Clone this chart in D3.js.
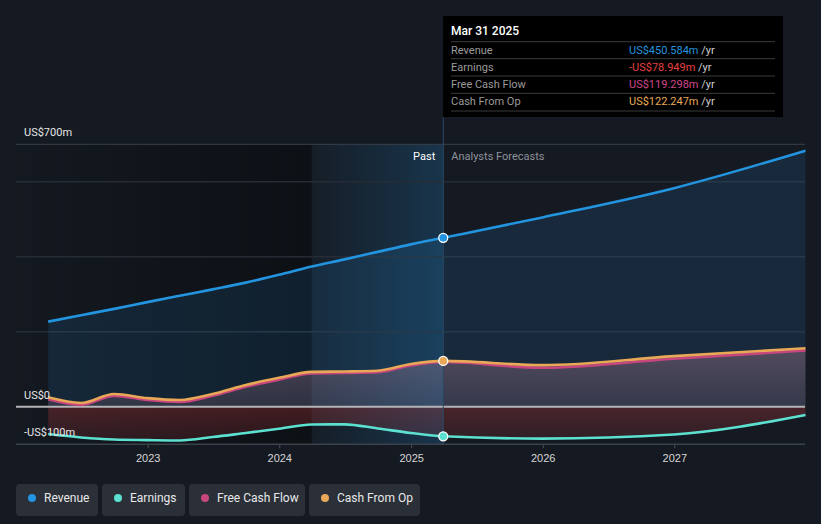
<!DOCTYPE html>
<html>
<head>
<meta charset="utf-8">
<script src="https://cdn.jsdelivr.net/npm/d3@7"></script>
<style>
  html, body { margin: 0; padding: 0; background: #151a22; }
  svg { display: block; font-family: Roboto, "Noto Sans", sans-serif; }
</style>
</head>
<body>
<svg id="chart" width="821" height="524"></svg>
<script>
// chart data (US$ millions)
const dates = ["2022-03-31","2022-06-30","2022-09-30","2022-12-31","2023-03-31","2023-06-30","2023-09-30","2023-12-31",
  "2024-03-31","2024-06-30","2024-09-30","2024-12-31","2025-03-31","2025-12-31","2026-12-31","2027-12-31"]
const revenue  = [227, 244, 261, 279, 296, 313, 331, 352, 374, 393, 413, 433, 450.584, 505, 583, 683]
const earnings = [-73, -82, -87.5, -89, -90, -81, -70, -59, -47.5, -47, -58, -70, -78.949, -85, -74, -22]
const fcf      = [20, 5, 29, 18, 13, 29, 53, 72, 89, 90, 92, 110, 119.298, 104, 128, 150]
const cfo      = [25, 10, 34, 23, 18, 34, 58, 77, 93, 94, 96, 114, 122.247, 111, 135, 156]
const yTicks = [-100, 0, 700]
const gridVals = [200, 400, 600]
const nowDate = "2025-03-31"
const highlightStart = "2024-03-31"

const seriesInfo = [
  {name: "Revenue", color: "#2394df", values: revenue},
  {name: "Earnings", color: "#5ce0cf", values: earnings},
  {name: "Free Cash Flow", color: "#c8467e", values: fcf},
  {name: "Cash From Op", color: "#e8a857", values: cfo}
]

const parse = d3.utcParse("%Y-%m-%d")
const svg = d3.select("#chart")
const left = 16, right = 805

const x = d3.scaleUtc()
  .domain([parse(dates[0]), parse(dates[dates.length-1])])
  .range([48.2, 805.5])
const y = d3.scaleLinear().domain([-100, 700]).range([444.2, 144.3])

const nowX = x(parse(nowDate))
const hlX = x(parse(highlightStart))

const defs = svg.append("defs")
let g1 = defs.append("linearGradient").attr("id","pastGrad").attr("x1","0").attr("x2","1").attr("y1","0").attr("y2","0")
g1.append("stop").attr("offset","0").attr("stop-color","#000").attr("stop-opacity",0.05)
g1.append("stop").attr("offset","1").attr("stop-color","#000").attr("stop-opacity",0.4)
let g2 = defs.append("linearGradient").attr("id","hlGrad").attr("x1","0").attr("x2","1").attr("y1","0").attr("y2","0")
g2.append("stop").attr("offset","0").attr("stop-color","#2394df").attr("stop-opacity",0.03)
g2.append("stop").attr("offset","1").attr("stop-color","#2394df").attr("stop-opacity",0.22)
let g3 = defs.append("linearGradient").attr("id","cashGrad").attr("x1","0").attr("x2","0").attr("y1","0").attr("y2","1")
g3.append("stop").attr("offset","0").attr("stop-color","#e09ab0").attr("stop-opacity",0.3)
g3.append("stop").attr("offset","1").attr("stop-color","#e09ab0").attr("stop-opacity",0.14)
let g4 = defs.append("linearGradient").attr("id","negGrad").attr("x1","0").attr("x2","0").attr("y1","0").attr("y2","1")
g4.append("stop").attr("offset","0").attr("stop-color","#e64141").attr("stop-opacity",0.25)
g4.append("stop").attr("offset","1").attr("stop-color","#e64141").attr("stop-opacity",0.12)

// past shading
svg.append("rect").attr("x", left).attr("y", y(700)).attr("width", hlX - left)
  .attr("height", y(-100) - y(700)).attr("fill", "url(#pastGrad)")
svg.append("rect").attr("x", hlX).attr("y", y(700)).attr("width", nowX - hlX)
  .attr("height", y(-100) - y(700)).attr("fill", "url(#hlGrad)")

// grid
svg.selectAll(".grid").data(gridVals).enter().append("line")
  .attr("x1", left).attr("x2", right).attr("y1", d => y(d)).attr("y2", d => y(d))
  .attr("stroke", "#262c35").attr("stroke-width", 1.5)
svg.append("line").attr("x1", left).attr("x2", right).attr("y1", y(700)).attr("y2", y(700))
  .attr("stroke", "#3a404a").attr("stroke-width", 1)

const pts = vals => vals.map((v, i) => ({d: parse(dates[i]), v: v}))
const area = d3.area().x(p => x(p.d)).y0(y(0)).y1(p => y(p.v)).curve(d3.curveMonotoneX)
const line = d3.line().x(p => x(p.d)).y(p => y(p.v)).curve(d3.curveMonotoneX)

// fills
svg.append("path").attr("d", area(pts(revenue))).attr("fill", "#2394df").attr("fill-opacity", 0.13)
svg.append("path").attr("d", area(pts(cfo))).attr("fill", "url(#cashGrad)")
svg.append("path").attr("d", area(pts(earnings))).attr("fill", "url(#negGrad)")

// zero line & axis
svg.append("line").attr("x1", left).attr("x2", right).attr("y1", y(0)).attr("y2", y(0))
  .attr("stroke", "#b4b4b8").attr("stroke-width", 2)
const xAxis = svg.append("g").attr("transform", `translate(0,${y(-100)})`)
  .call(d3.axisBottom(x).ticks(d3.utcYear.every(1)).tickFormat(d3.utcFormat("%Y")).tickSize(4).tickPadding(6))
xAxis.select(".domain").remove()
xAxis.selectAll(".tick line").attr("stroke", "#4a505a")
xAxis.selectAll("text").attr("fill", "#d6d6d6").attr("font-size", 11)
svg.append("line").attr("x1", left).attr("x2", right).attr("y1", y(-100)).attr("y2", y(-100))
  .attr("stroke", "#3c424c").attr("stroke-width", 1.5)

// now line
svg.append("line").attr("x1", nowX).attr("x2", nowX).attr("y1", 117).attr("y2", y(-100))
  .attr("stroke", "#2b4a66").attr("stroke-width", 1)

// lines
;[1, 0, 2, 3].forEach(i => {
  const s = seriesInfo[i]
  svg.append("path").attr("d", line(pts(s.values))).attr("fill", "none")
    .attr("stroke", s.color).attr("stroke-width", 2.6)
})
const nowIdx = dates.indexOf(nowDate)
;[0, 1, 3].forEach(i => {
  const s = seriesInfo[i]
  svg.append("circle").attr("cx", nowX).attr("cy", y(s.values[nowIdx])).attr("r", 4.5)
    .attr("fill", s.color).attr("stroke", "#fff").attr("stroke-width", 1.3)
})

// y labels
const yFmt = v => v === 0 ? "US$0" : (v < 0 ? "-US$" + Math.abs(v) + "m" : "US$" + v + "m")
svg.selectAll(".ylab").data(yTicks).enter().append("text")
  .attr("x", 24).attr("y", d => y(d) - 8).text(yFmt)
  .attr("fill", "#e6e6e6").attr("font-size", 11)

svg.append("text").attr("x", nowX - 8).attr("y", 160).attr("text-anchor", "end")
  .attr("fill", "#fff").attr("font-size", 11).text("Past")
svg.append("text").attr("x", nowX + 8).attr("y", 160)
  .attr("fill", "#8c9199").attr("font-size", 11).text("Analysts Forecasts")

// tooltip
const tip = svg.append("g")
tip.append("rect").attr("x", 443).attr("y", 16).attr("width", 340).attr("height", 101).attr("fill", "#000")
tip.append("text").attr("x", 451).attr("y", 35).attr("fill", "#fff").attr("font-size", 12)
  .attr("font-weight", 500).text("Mar 31 2025")
const fmtVal = v => (v < 0 ? "-US$" : "US$") + Math.abs(v).toFixed(3) + "m"
const tipColors = ["#2394df", "#e64141", "#d2468a", "#e8a857"]
const rowY = [41.7, 58.7, 76, 93.3]
seriesInfo.forEach((s, i) => {
  tip.append("line").attr("x1", 451).attr("x2", 775).attr("y1", rowY[i]).attr("y2", rowY[i]).attr("stroke", "#3a3a3a")
  tip.append("text").attr("x", 451).attr("y", rowY[i] + 12).attr("fill", "#9a9a9a").attr("font-size", 11).text(s.name)
  const t = tip.append("text").attr("x", 629).attr("y", rowY[i] + 12).attr("font-size", 11)
  t.append("tspan").attr("fill", tipColors[i]).text(fmtVal(s.values[nowIdx]))
  t.append("tspan").attr("fill", "#cfcfcf").text(" /yr")
})
tip.append("line").attr("x1", 451).attr("x2", 775).attr("y1", 111).attr("y2", 111).attr("stroke", "#3a3a3a")

// legend
const legW = [82, 83, 116, 111]
let lx = 16
seriesInfo.forEach((s, i) => {
  const lg = svg.append("g").attr("transform", `translate(${lx},484)`)
  lg.append("rect").attr("width", legW[i]).attr("height", 32).attr("rx", 4).attr("fill", "#2a2f38")
  lg.append("circle").attr("cx", 16).attr("cy", 14).attr("r", 4).attr("fill", s.color)
  lg.append("text").attr("x", 28).attr("y", 18).attr("fill", "#e8e8e8").attr("font-size", 12).text(s.name)
  lx += legW[i] + 4
})
</script>
</body>
</html>
